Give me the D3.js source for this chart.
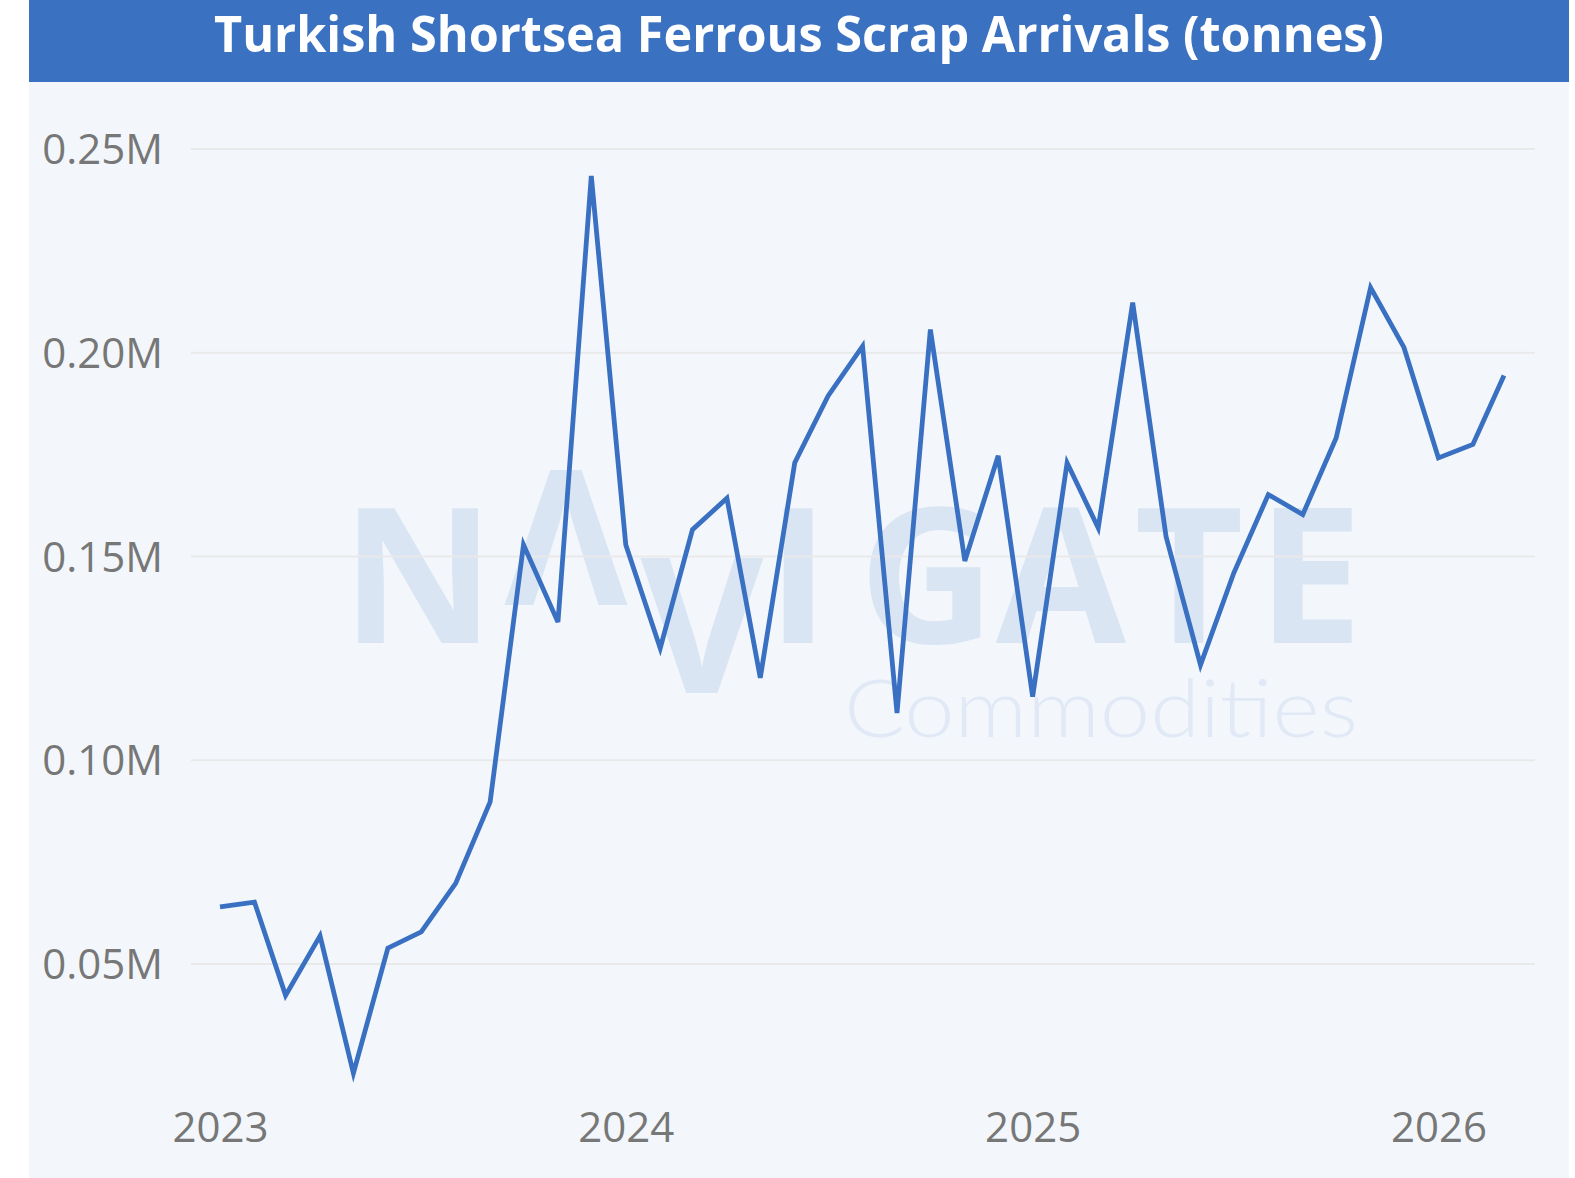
<!DOCTYPE html>
<html>
<head>
<meta charset="utf-8">
<script src="https://cdn.jsdelivr.net/npm/d3@7"></script>
<style>
  body { margin: 0; background: #fff; }
  svg { display: block; }
</style>
</head>
<body>
<svg id="chart" width="1575" height="1178"></svg>
<script>
const title = 'Turkish Shortsea Ferrous Scrap Arrivals (tonnes)'

const months = [
  '2023-01', '2023-02', '2023-03', '2023-04', '2023-05', '2023-06',
  '2023-07', '2023-08', '2023-09', '2023-10', '2023-11', '2023-12',
  '2024-01', '2024-02', '2024-03', '2024-04', '2024-05', '2024-06',
  '2024-07', '2024-08', '2024-09', '2024-10', '2024-11', '2024-12',
  '2025-01', '2025-02', '2025-03', '2025-04', '2025-05', '2025-06',
  '2025-07', '2025-08', '2025-09', '2025-10', '2025-11', '2025-12',
  '2026-01', '2026-02', '2026-03'
]

const arrivals = [
  64000, 65200, 42300, 56900, 23200, 53900, 57900, 69800, 89800, 152900, 133900, 243400,
  152900, 127500, 156600, 164300, 120200, 173000, 189400, 201600, 111600, 205700, 148900, 174700,
  115600, 173000, 157000, 212300, 154900, 123400, 146000, 165200, 160300, 179100, 216000, 201300,
  174200, 177500, 194400
]

const yTicks = [50000, 100000, 150000, 200000, 250000]
const xTicks = ['2023-01', '2024-01', '2025-01', '2026-01']

const parseMonth = d3.timeParse('%Y-%m')
const data = months.map((m, i) => ({ date: parseMonth(m), value: arrivals[i] }))

const svg = d3.select('#chart')

// panel + title bar
svg.append('rect')
  .attr('x', 29).attr('y', 82).attr('width', 1540).attr('height', 1096)
  .attr('fill', '#f3f7fc')
svg.append('rect')
  .attr('x', 29).attr('y', 0).attr('width', 1540).attr('height', 82)
  .attr('fill', '#3a71c1')
svg.append('text')
  .attr('x', 799).attr('y', 52)
  .attr('text-anchor', 'middle')
  .attr('font-family', '"Open Sans", sans-serif')
  .attr('font-weight', 700)
  .attr('font-size', 50)
  .attr('fill', '#fff')
  .attr('textLength', 1170)
  .attr('lengthAdjust', 'spacingAndGlyphs')
  .text(title)

const x = d3.scaleTime()
  .domain(d3.extent(data, d => d.date))
  .range([220, 1504])
const y = d3.scaleLinear()
  .domain([50000, 250000])
  .range([964, 149])

// watermark
const wm = svg.append('g').attr('font-family', '"Open Sans", sans-serif')
const letters = [
  { t: 'N', x: 418, dy: 0 },
  { t: 'Λ', x: 566, dy: -38 },
  { t: 'V', x: 702, dy: 50 },
  { t: 'I', x: 798, dy: 0 },
  { t: 'G', x: 927, dy: 0 },
  { t: 'A', x: 1061, dy: 0 },
  { t: 'T', x: 1189, dy: 0 },
  { t: 'E', x: 1310, dy: 0 }
]
wm.selectAll('text.wm')
  .data(letters)
  .join('text')
  .attr('class', 'wm')
  .attr('x', d => d.x)
  .attr('y', d => 643 + d.dy)
  .attr('text-anchor', 'middle')
  .attr('font-weight', 700)
  .attr('font-size', 189)
  .attr('fill', '#dae5f4')
  .text(d => d.t)
wm.append('text')
  .attr('x', 844).attr('y', 737)
  .attr('font-family', 'Lato, "Open Sans", sans-serif')
  .attr('font-weight', 300)
  .attr('font-size', 80)
  .attr('fill', '#e1e9f6')
  .attr('textLength', 514)
  .attr('lengthAdjust', 'spacingAndGlyphs')
  .text('Commodities')

// grid
svg.append('g')
  .selectAll('line')
  .data(yTicks)
  .join('line')
  .attr('x1', 191).attr('x2', 1535)
  .attr('y1', d => y(d)).attr('y2', d => y(d))
  .attr('stroke', '#e9e9ea').attr('stroke-width', 2)

// y axis
const yAxis = svg.append('g')
  .attr('transform', 'translate(163,0)')
  .call(d3.axisLeft(y).tickValues(yTicks).tickSize(0).tickPadding(0)
    .tickFormat(d => d3.format('.2f')(d / 1e6) + 'M'))
yAxis.select('.domain').remove()
yAxis.selectAll('text')
  .attr('font-family', '"Open Sans", sans-serif')
  .attr('font-size', 42)
  .attr('fill', '#777')
  .attr('dy', '0.35em')

// x axis
const xAxis = svg.append('g')
  .attr('transform', 'translate(0,1100)')
  .call(d3.axisBottom(x).tickValues(xTicks.map(parseMonth)).tickSize(0).tickPadding(0)
    .tickFormat(d3.timeFormat('%Y')))
xAxis.select('.domain').remove()
xAxis.selectAll('text')
  .attr('font-family', '"Open Sans", sans-serif')
  .attr('font-size', 42)
  .attr('fill', '#777')
  .attr('dy', '1em')

// series
svg.append('path')
  .datum(data)
  .attr('fill', 'none')
  .attr('stroke', '#3a70c2')
  .attr('stroke-width', 4.8)
  .attr('stroke-linejoin', 'miter')
  .attr('d', d3.line().x(d => x(d.date)).y(d => y(d.value)))
</script>
</body>
</html>
